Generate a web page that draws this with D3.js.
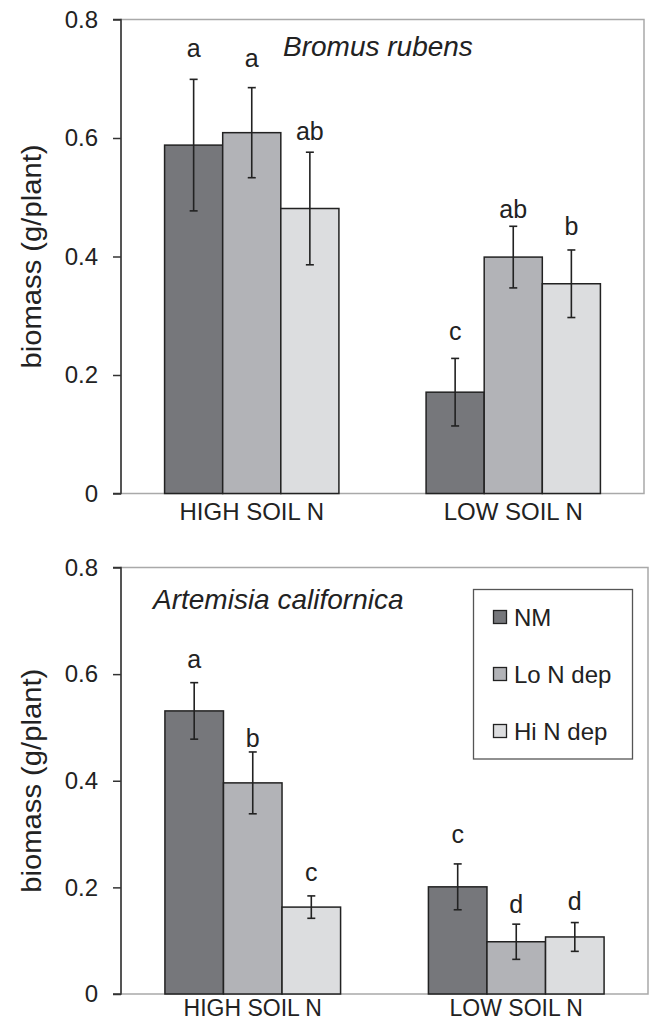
<!DOCTYPE html>
<html>
<head>
<meta charset="utf-8">
<script src="https://cdn.jsdelivr.net/npm/d3@7"></script>
<style>
  body { margin: 0; background: #fff; }
  svg { display: block; font-family: "Liberation Sans", Arial, sans-serif; }
  .axis text { font-size: 24px; fill: #222; }
</style>
</head>
<body>
<svg id="chart" width="651" height="1022"></svg>
<script>
const categories = ["HIGH SOIL N", "LOW SOIL N"];
const treatments = ["NM", "Lo N dep", "Hi N dep"];
const yTicks = [0, 0.2, 0.4, 0.6, 0.8];
const colors = ["#76777b", "#b2b3b7", "#dcdddf"];

// Bromus rubens
const bromusMean = [[0.588, 0.609, 0.481], [0.171, 0.399, 0.354]];
const bromusErr = [[0.111, 0.076, 0.095], [0.057, 0.052, 0.057]];
const bromusLetters = [["a", "a", "ab"], ["c", "ab", "b"]];
const bromusLetterAt = [[0.736, 0.719, 0.596], [0.259, 0.465, 0.436]];

// Artemisia californica
const artemisiaMean = [[0.531, 0.396, 0.163], [0.201, 0.098, 0.107]];
const artemisiaErr = [[0.053, 0.058, 0.021], [0.043, 0.033, 0.027]];
const artemisiaLetters = [["a", "b", "c"], ["c", "d", "d"]];
const artemisiaLetterAt = [[0.611, 0.463, 0.212], [0.283, 0.151, 0.158]];

const svg = d3.select("#chart");

function drawPanel(opt) {
  const { top, bottom, left, right, mean, err, letters, letterAt, title, titleDx, titleDy, legend } = opt;
  const g = svg.append("g");

  const x0 = d3.scaleBand().domain(categories).range([left, right])
    .paddingInner(1 / 3).paddingOuter(1 / 6);
  const x1 = d3.scaleBand().domain(treatments).range([0, x0.bandwidth()]);
  const y = d3.scaleLinear().domain([0, 0.8]).range([bottom, top]);

  // frame
  g.append("rect")
    .attr("x", left).attr("y", top)
    .attr("width", right - left).attr("height", bottom - top)
    .attr("fill", "none").attr("stroke", "#a9a9a9").attr("stroke-width", 1.5);

  const rows = [];
  categories.forEach((c, i) => treatments.forEach((t, j) => {
    rows.push({ c, t, v: mean[i][j], e: err[i][j], l: letters[i][j], la: letterAt[i][j], k: j });
  }));

  g.selectAll("rect.bar").data(rows).join("rect")
    .attr("class", "bar")
    .attr("x", d => x0(d.c) + x1(d.t))
    .attr("y", d => y(d.v))
    .attr("width", x1.bandwidth())
    .attr("height", d => y(0) - y(d.v))
    .attr("fill", d => colors[d.k])
    .attr("stroke", "#222").attr("stroke-width", 1.5);

  const cx = d => x0(d.c) + x1(d.t) + x1.bandwidth() / 2;
  const eb = g.selectAll("g.err").data(rows).join("g").attr("class", "err")
    .attr("stroke", "#222").attr("stroke-width", 1.6);
  eb.append("line")
    .attr("x1", cx).attr("x2", cx)
    .attr("y1", d => y(d.v + d.e)).attr("y2", d => y(d.v - d.e));
  eb.append("line")
    .attr("x1", d => cx(d) - 4).attr("x2", d => cx(d) + 4)
    .attr("y1", d => y(d.v + d.e)).attr("y2", d => y(d.v + d.e));
  eb.append("line")
    .attr("x1", d => cx(d) - 4).attr("x2", d => cx(d) + 4)
    .attr("y1", d => y(d.v - d.e)).attr("y2", d => y(d.v - d.e));

  g.selectAll("text.letter").data(rows).join("text")
    .attr("class", "letter")
    .attr("x", cx).attr("y", d => y(d.la))
    .attr("text-anchor", "middle")
    .attr("font-size", 25).attr("fill", "#222")
    .text(d => d.l);

  // y axis
  const yAxis = g.append("g").attr("class", "axis")
    .attr("transform", `translate(${left},0)`)
    .call(d3.axisLeft(y).tickValues(yTicks).tickSize(8).tickPadding(15)
      .tickFormat(d => d === 0 ? "0" : d.toFixed(1)));
  yAxis.select(".domain").attr("stroke", "#333").attr("stroke-width", 1.5)
    .attr("d", `M-8,${top}H0V${bottom}H-8`);
  yAxis.selectAll(".tick line").attr("stroke", "#333").attr("stroke-width", 1.5);

  // x axis labels
  const xAxis = g.append("g").attr("class", "axis")
    .attr("transform", `translate(0,${bottom})`)
    .call(d3.axisBottom(x0).tickSize(0).tickPadding(opt.xPad));
  xAxis.select(".domain").remove();
  xAxis.selectAll("text").style("font-size", opt.xFont + "px");

  // y title
  g.append("text")
    .attr("transform", `translate(${opt.yTitleX},${(top + bottom) / 2}) rotate(-90)`)
    .attr("text-anchor", "middle")
    .attr("font-size", 27).attr("fill", "#222")
    .attr("textLength", 224).attr("lengthAdjust", "spacingAndGlyphs")
    .text("biomass (g/plant)");

  // species title
  g.append("text")
    .attr("x", left + titleDx).attr("y", top + titleDy)
    .attr("font-size", 28).attr("font-style", "italic").attr("fill", "#222")
    .text(title);

  if (legend) {
    const lg = g.append("g");
    lg.append("rect")
      .attr("x", 473.5).attr("y", 589.5).attr("width", 159).attr("height", 169.5)
      .attr("fill", "#fff").attr("stroke", "#555").attr("stroke-width", 1.3);
    const ly = d3.scalePoint().domain(treatments).range([617, 731]);
    const it = lg.selectAll("g.item").data(treatments).join("g")
      .attr("transform", d => `translate(493,${ly(d)})`);
    it.append("rect")
      .attr("x", 0.5).attr("y", -6.5).attr("width", 13).attr("height", 13)
      .attr("fill", (d, i) => colors[i]).attr("stroke", "#222").attr("stroke-width", 1.3);
    it.append("text")
      .attr("x", 21).attr("dy", "0.36em")
      .attr("font-size", 24).attr("fill", "#222")
      .text(d => d);
  }
}

drawPanel({
  top: 19.5, bottom: 493.5, left: 121, right: 644,
  mean: bromusMean, err: bromusErr, letters: bromusLetters, letterAt: bromusLetterAt,
  title: "Bromus rubens", titleDx: 162, titleDy: 36, xPad: 9, xFont: 24, yTitleX: 41, legend: false
});

drawPanel({
  top: 567.5, bottom: 994, left: 121, right: 648,
  mean: artemisiaMean, err: artemisiaErr, letters: artemisiaLetters, letterAt: artemisiaLetterAt,
  title: "Artemisia californica", titleDx: 32, titleDy: 41, xPad: 6, xFont: 23, yTitleX: 41, legend: true
});
</script>
</body>
</html>
